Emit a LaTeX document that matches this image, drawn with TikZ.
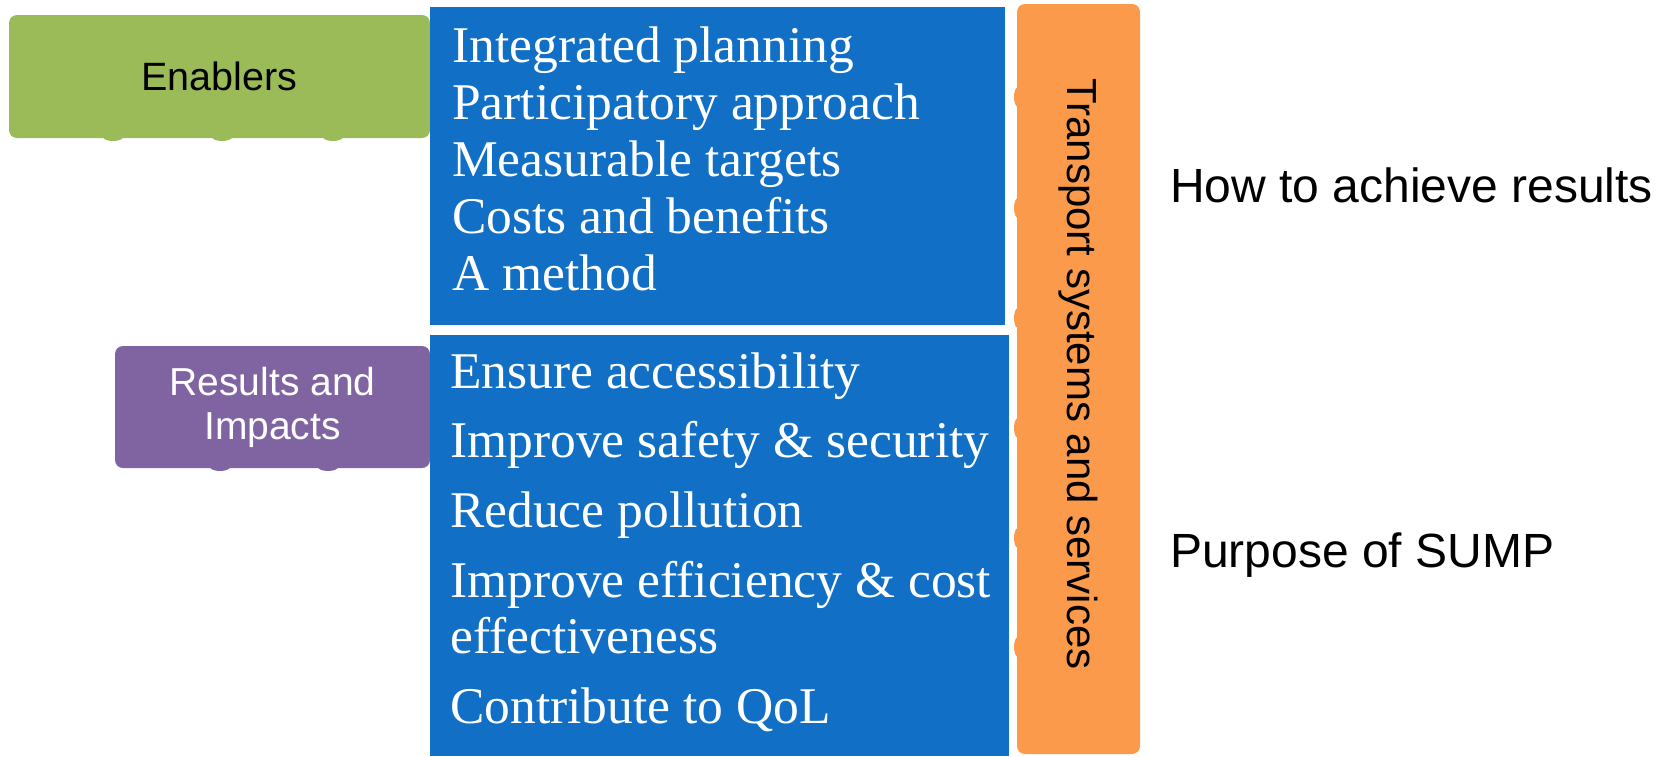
\documentclass[tikz,border=0pt]{standalone}
\usepackage{fontspec}
\setmainfont{Liberation Serif}
\newfontfamily\arial{Liberation Sans}
\definecolor{sumpblue}{HTML}{1170C6}
\definecolor{sumpgreen}{HTML}{9BBB59}
\definecolor{sumppurple}{HTML}{8064A2}
\definecolor{sumporange}{HTML}{FB9A4A}
\tikzset{
  box/.style={inner sep=0pt, outer sep=0pt},
  item/.style={anchor=base west, inner sep=0pt, text=white, align=left,
    font=\fontsize{51.5}{56}\selectfont},
  side/.style={anchor=base west, inner sep=0pt, font=\arial\fontsize{48}{56}\selectfont},
}
\begin{document}
\begin{tikzpicture}[x=1pt,y=-1pt]
  \useasboundingbox[fill=white] (0,0) rectangle (1668,756);
  % little tabs peeking out under the boxes
  \foreach \x in {113,222,333}
    \fill[sumpgreen] (\x,137) ellipse (10 and 4);
  \foreach \x in {220,328}
    \fill[sumppurple] (\x,467) ellipse (10 and 4);
  \foreach \y in {97,208,318,428,538,647}
    \fill[sumporange] (1018,\y) ellipse (4 and 10);
  % left hand tags
  \node[box, fill=sumpgreen, rounded corners=8pt, minimum width=421pt, minimum height=123pt,
    font=\arial\fontsize{39.5}{44}\selectfont] (E) at (219.5,76.5) {Enablers};
  \node[box, fill=sumppurple, rounded corners=8pt, minimum width=315pt, minimum height=122pt,
    text=white, align=center, font=\arial\fontsize{39}{44}\selectfont] (R) at (272.5,407) {Results and\\Impacts};
  % the two blue lists
  \node[box, fill=sumpblue, minimum width=575pt, minimum height=318pt] (B1) at (717.5,166) {};
  \node[box, fill=sumpblue, minimum width=579pt, minimum height=421pt] (B2) at (719.5,545.5) {};
  \foreach \txt/\y [count=\i] in {Integrated planning/62, Participatory approach/119,
      Measurable targets/176, Costs and benefits/233, A method/290}
    \node[item] (a\i) at (452,\y) {\txt};
  \node[item] (b1) at (450,388) {Ensure accessibility};
  \node[item] (b2) at (450,457) {Improve safety \& security};
  \node[item] (b3) at (450,527) {Reduce pollution};
  % base of a two line node sits on its last line
  \node[item] (b4) at (450,653) {Improve efficiency \& cost\\effectiveness};
  \node[item] (b5) at (450,723) {Contribute to QoL};
  % orange bar on the right
  \node[box, fill=sumporange, rounded corners=8pt, minimum width=123pt, minimum height=750pt] (T) at (1078.5,379) {};
  \node[rotate=-90, inner sep=0pt, font=\arial\fontsize{42}{48}\selectfont] (Tt) at (1078,374)
    {Transport systems and services};
  \node[side] (how) at (1170,202) {How to achieve results};
  \node[side] (why) at (1170,567) {Purpose of SUMP};
\end{tikzpicture}
\end{document}
